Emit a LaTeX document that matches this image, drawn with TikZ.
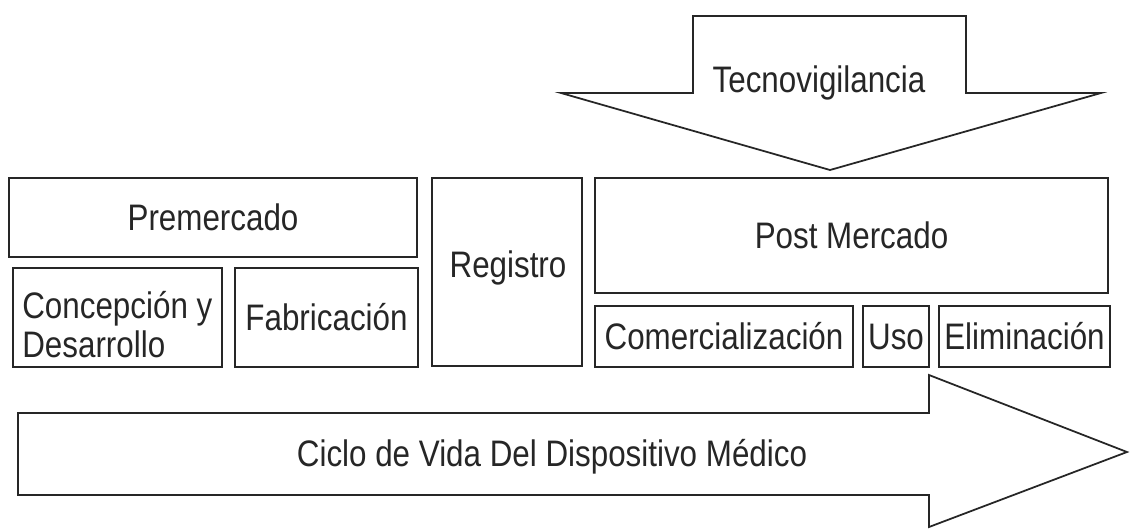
\documentclass[tikz,border=0pt]{standalone}
\usepackage{fontspec}
\setmainfont{Liberation Sans}[FakeStretch=0.85]
\usepackage{tikz}
\tikzset{
	stage/.style = {draw=black!85, line width=1pt, inner sep=0pt, align=center, text=black!85, font=\fontsize{21}{22}\selectfont},
	bigarrow/.style = {draw=black!85, line width=1pt, fill=white},
	plaintext/.style = {inner sep=0pt, text=black!85, font=\fontsize{21}{22}\selectfont},
}

\begin{document}
\begin{tikzpicture}[x=0.02cm, y=-0.02cm]
	\useasboundingbox (0,0) rectangle (1130,529);

	\draw[bigarrow] (693,16) -- (966,16) -- (966,93) -- (1101,93) -- (830,170) -- (561,93) -- (693,93) -- cycle;
	\node[plaintext, anchor=base] (tecno) at (819,92) {Tecnovigilancia};

	\node[stage, minimum width=8.16cm, minimum height=1.58cm] (pre) at (213,217.5) {Premercado};
	\node[stage, minimum width=4.18cm, minimum height=1.98cm] (conc) at (117.5,317.5) {};
	\node[plaintext, align=left, anchor=base west] (conctext) at (22,357) {Concepción y\\Desarrollo};
	\node[stage, minimum width=3.66cm, minimum height=1.98cm] (fab) at (326.5,317.5) {Fabricación};
	\node[stage, minimum width=3.0cm, minimum height=3.76cm] (reg) at (507,272) {};
	\node[plaintext, anchor=base] (regtext) at (508,277) {Registro};
	\node[stage, minimum width=10.26cm, minimum height=2.30cm] (post) at (851.5,235.5) {Post Mercado};
	\node[stage, minimum width=5.16cm, minimum height=1.22cm] (com) at (724,336.5) {Comercialización};
	\node[stage, minimum width=1.32cm, minimum height=1.22cm] (uso) at (896,336.5) {Uso};
	\node[stage, minimum width=3.42cm, minimum height=1.22cm] (elim) at (1024.5,336.5) {Eliminación};

	\draw[bigarrow] (18,413) -- (929,413) -- (929,375) -- (1127,452) -- (929,527) -- (929,495) -- (18,495) -- cycle;
	\node[plaintext] (ciclo) at (552,457) {Ciclo de Vida Del Dispositivo Médico};
\end{tikzpicture}
\end{document}
